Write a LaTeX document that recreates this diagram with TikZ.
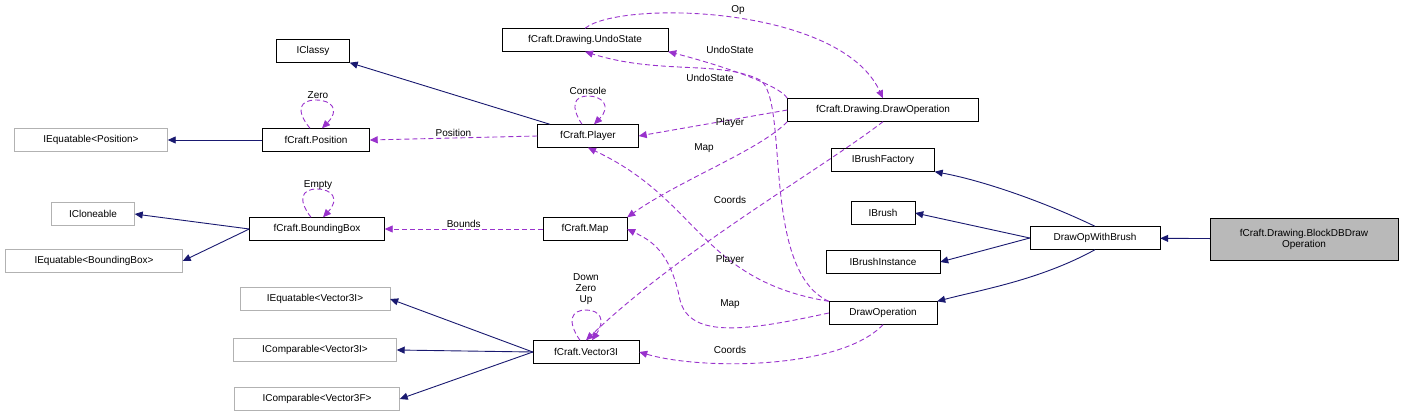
\documentclass[tikz,border=0pt]{standalone}
\usepackage{fontspec}
\setmainfont{Liberation Sans}
\usetikzlibrary{arrows.meta}
\definecolor{navy}{RGB}{25,25,112}
\definecolor{orch}{RGB}{153,50,204}
\begin{document}
\begin{tikzpicture}[x=1pt,y=-1pt,font=\fontsize{10}{11}\selectfont,
 cls/.style={draw=black,fill=white,inner sep=2pt,minimum height=23pt,align=center},
 ext/.style={draw=gray!60,fill=white,inner sep=2pt,minimum height=23pt},
 cur/.style={draw=black,fill=gray!55,inner sep=2pt,align=center,minimum height=42pt},
 inh/.style={draw=navy,line width=0.9pt,-{Triangle[length=8pt,width=7pt,fill=navy]}},
 use/.style={draw=orch,line width=0.9pt,dash pattern=on 5pt off 3pt,-{Triangle[length=8pt,width=7pt,fill=orch]}},
 lbl/.style={fill=none,inner sep=1pt}]
\useasboundingbox (0,0) rectangle (1405,420);
\node[cls,minimum width=73pt] (iclassy) at (313,51) {IClassy};
\node[cls,minimum width=166pt] (undo) at (585,40) {fCraft.Drawing.UndoState};
\node[cls,minimum width=191pt] (ddo) at (883,110) {fCraft.Drawing.DrawOperation};
\node[ext,minimum width=153pt] (ieqp) at (91,140) {IEquatable<Position>};
\node[cls,minimum width=107pt] (pos) at (316,140) {fCraft.Position};
\node[cls,minimum width=101pt] (player) at (588,136) {fCraft.Player};
\node[cls,minimum width=103pt] (ibf) at (883,160) {IBrushFactory};
\node[ext,minimum width=83pt] (iclone) at (93,214) {ICloneable};
\node[cls,minimum width=135pt] (bb) at (317,229) {fCraft.BoundingBox};
\node[cls,minimum width=84pt] (map) at (585,229) {fCraft.Map};
\node[cls,minimum width=64pt] (ibrush) at (883,213) {IBrush};
\node[ext,minimum width=177pt] (ieqbb) at (94,261) {IEquatable<BoundingBox>};
\node[cls,minimum width=130pt] (dowb) at (1095,238) {DrawOpWithBrush};
\node[cls,minimum width=114pt] (ibi) at (883,262) {IBrushInstance};
\node[cur,minimum width=188pt] (block) at (1304,239) {fCraft.Drawing.BlockDBDraw\\Operation};
\node[ext,minimum width=150pt] (ieqv) at (315,299) {IEquatable<Vector3I>};
\node[cls,minimum width=108pt] (dop) at (883,313) {DrawOperation};
\node[ext,minimum width=163pt] (icv) at (315,350) {IComparable<Vector3I>};
\node[cls,minimum width=106pt] (vec) at (586,352) {fCraft.Vector3I};
\node[ext,minimum width=165pt] (icf) at (317,399) {IComparable<Vector3F>};
% inheritance
\draw[inh] (player) -- (iclassy.south east);
\draw[inh] (pos) -- (ieqp);
\draw[inh] (bb.west) -- (iclone.east);
\draw[inh] (bb.west) -- (ieqbb.east);
\draw[inh] (vec.west) -- (ieqv.east);
\draw[inh] (vec.west) -- (icv.east);
\draw[inh] (vec.west) -- (icf.east);
\draw[inh] (dowb.north) .. controls (1040,200) and (980,180) .. (ibf.south east);
\draw[inh] (dowb.west) -- (ibrush.east);
\draw[inh] (dowb.west) -- (ibi.east);
\draw[inh] (dowb.south) .. controls (1040,280) and (980,290) .. (dop.north east);
\draw[inh] (block) -- (dowb);
% self loops
\draw[use] ([xshift=-6pt]pos.north) .. controls (295,110) and (300,100) .. (316,100) .. controls (332,100) and (340,110) .. ([xshift=6pt]pos.north);
\node[lbl] at (318,95) {Zero};
\draw[use] ([xshift=-6pt]player.north) .. controls (570,106) and (574,96) .. (588,96) .. controls (602,96) and (612,106) .. ([xshift=6pt]player.north);
\node[lbl] at (588,91) {Console};
\draw[use] ([xshift=-6pt]bb.north) .. controls (297,199) and (302,189) .. (317,189) .. controls (332,189) and (340,199) .. ([xshift=6pt]bb.north);
\node[lbl] at (318,185) {Empty};
\draw[use] ([xshift=-6pt]vec.north) .. controls (566,320) and (572,310) .. (586,310) .. controls (600,310) and (606,320) .. ([xshift=6pt]vec.north);
\node[lbl,align=center] at (586,289) {Down\\Zero\\Up};
% usage
\draw[use] (player.west) -- node[lbl,above] {Position} (pos.east);
\draw[use] (map.west) -- node[lbl,above] {Bounds} (bb.east);
\draw[use] (ddo.north west) .. controls (780,85) and (720,65) .. (undo.south east);
\node[lbl] at (730,50) {UndoState};
\draw[use] (undo.north) .. controls (620,0) and (840,5) .. (ddo.north);
\node[lbl] at (738,10) {Op};
\draw[use] (ddo.west) -- (player.east);
\node[lbl] at (730,123) {Player};
\draw[use] (ddo.south west) .. controls (760,150) and (680,180) .. (map.north east);
\node[lbl] at (704,148) {Map};
\draw[use] (ddo.south) .. controls (820,170) and (680,250) .. (vec.north);
\node[lbl] at (730,200) {Coords};
\draw[use] (dop.north west) .. controls (760,270) and (790,100) .. (760,80) .. controls (720,60) and (660,75) .. (undo.south);
\node[lbl] at (710,78) {UndoState};
\draw[use] (dop.north west) .. controls (700,280) and (700,200) .. (player.south);
\node[lbl] at (730,260) {Player};
\draw[use] (dop.west) .. controls (750,330) and (690,340) .. (680,300) .. controls (670,250) and (650,240) .. (map.east);
\node[lbl] at (730,304) {Map};
\draw[use] (dop.south) .. controls (840,370) and (700,370) .. (vec.east);
\node[lbl] at (730,350) {Coords};
\end{tikzpicture}
\end{document}
